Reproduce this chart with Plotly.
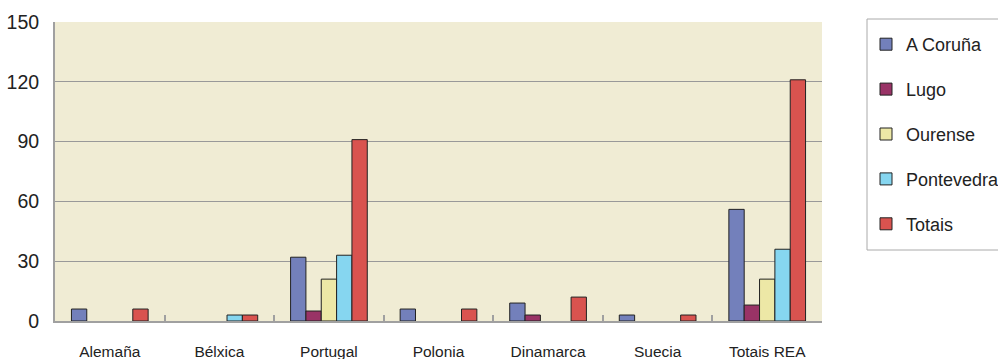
import plotly.graph_objects as go

categories = ["Alemaña", "Bélxica", "Portugal", "Polonia", "Dinamarca", "Suecia", "Totais REA"]
a_coruna = [6, 0, 32, 6, 9, 3, 56]
lugo = [0, 0, 5, 0, 3, 0, 8]
ourense = [0, 0, 21, 0, 0, 0, 21]
pontevedra = [0, 3, 33, 0, 0, 0, 36]
totais = [6, 3, 91, 6, 12, 3, 121]

series = [
    ("A Coruña", a_coruna, "#7380BB"),
    ("Lugo", lugo, "#993366"),
    ("Ourense", ourense, "#EDE8A6"),
    ("Pontevedra", pontevedra, "#86D6F0"),
    ("Totais", totais, "#D9534F"),
]

fig = go.Figure()
for name, vals, col in series:
    fig.add_trace(go.Bar(
        x=categories, y=[v if v else None for v in vals], name=name, legendgroup=name,
        marker=dict(color=col, line=dict(color="#222222", width=1)),
    ))

W, H = 998, 359
L, R, T, B = 55, 176, 22, 38
plot_w = W - L - R
plot_h = H - T - B

def px_x(p):
    return (p - L) / plot_w

def px_y(p):
    return (H - B - p) / plot_h

# legend frame
fig.add_shape(type="rect", xref="paper", yref="paper",
              x0=px_x(867), x1=px_x(1010), y0=px_y(250), y1=px_y(19),
              line=dict(color="#AAAAAA", width=1), fillcolor="white", layer="above")

fig.update_layout(
    width=W, height=H,
    margin=dict(l=L, r=R, t=T, b=B, autoexpand=False),
    paper_bgcolor="white",
    plot_bgcolor="#F0ECD4",
    barmode="group",
    bargap=0.3,
    bargroupgap=0,
    font=dict(family="Liberation Sans, Arial, sans-serif", color="#222222"),
    legend=dict(
        x=px_x(866), xanchor="left", y=px_y(26), yanchor="top",
        borderwidth=0, bgcolor="rgba(0,0,0,0)",
        font=dict(size=18, color="#222222"),
        tracegroupgap=18.5,
        traceorder="grouped",
        itemwidth=30,
        maxheight=330,
    ),
    xaxis=dict(
        showline=True, linecolor="#A0A0A0", linewidth=2,
        ticks="inside", tickson="boundaries", ticklen=6, tickwidth=2, tickcolor="#A0A0A0",
        tickfont=dict(size=15.5, color="#222222"),
        ticklabelstandoff=15,
        showgrid=False,
        automargin=False,
        fixedrange=True,
    ),
    yaxis=dict(
        range=[0, 150], tickvals=[0, 30, 60, 90, 120, 150],
        showline=True, linecolor="#A0A0A0", linewidth=2,
        gridcolor="#999999", gridwidth=1,
        zeroline=False,
        tickfont=dict(size=19.5, color="#222222"),
        ticks="", ticklabelstandoff=10,
        automargin=False,
        fixedrange=True,
    ),
)

fig.write_html("out.html", config={"displayModeBar": False},
               post_script="document.body.style.margin='0';")
